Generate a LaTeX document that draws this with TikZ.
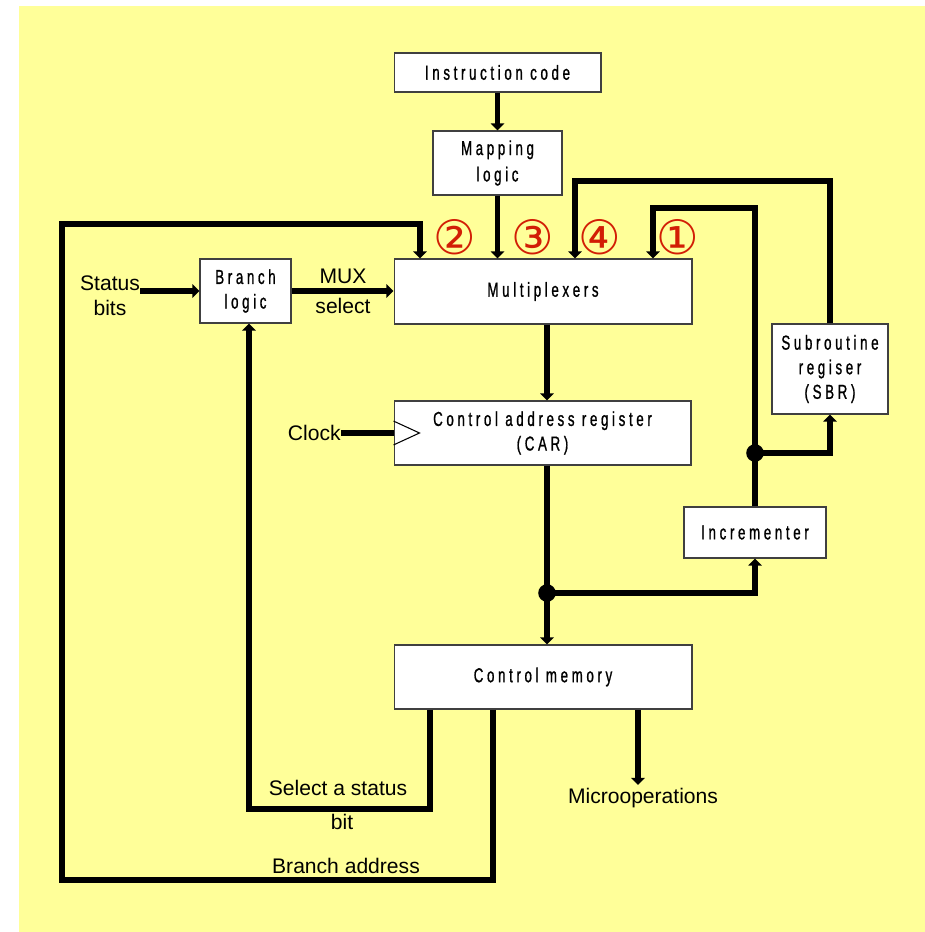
\documentclass[tikz,border=0pt]{standalone}
\usepackage{fontspec}
\setmainfont{Liberation Sans}
\newfontfamily\boxfont[FakeStretch=0.66,LetterSpace=18,FakeBold=0.9]{Liberation Sans}
\newfontfamily\numfont{DejaVu Sans}
\usetikzlibrary{arrows.meta}
\definecolor{paper}{RGB}{255,255,153}
\definecolor{numred}{RGB}{210,30,5}
\tikzset{
  unit/.style={draw=black!75, fill=white, line width=0.6pt, inner sep=0pt, align=center,
    font=\boxfont\fontsize{11.5}{14}\selectfont},
  bus/.style={line width=3.4pt},
  tobox/.style={bus, -{Triangle[length=4pt,width=7.5pt]}},
  lbl/.style={font=\fontsize{12}{14}\selectfont, inner sep=0pt},
  num/.style={text=numred, font=\numfont\fontsize{27}{27}\selectfont, inner sep=0pt}
}

\begin{document}
\begin{tikzpicture}[x=0.02cm, y=-0.02cm]
        % Page
        \useasboundingbox (0,0) rectangle (925,932);
        \fill[paper] (19,6) rectangle (925,932);
        % Draw the boxes
        \node[unit, minimum width=4.14cm, minimum height=0.78cm] (instr) at (497.5,72.5) {Instruction code};
        \node[unit, minimum width=2.58cm, minimum height=1.28cm] (maplog) at (497.5,163) {Mapping\\[1pt]logic};
        \node[unit, minimum width=5.96cm, minimum height=1.30cm] (mux) at (543,291.5) {Multiplexers};
        \node[unit, minimum width=1.82cm, minimum height=1.28cm] (branch) at (245.5,291) {Branch\\logic};
        \node[unit, minimum width=5.94cm, minimum height=1.28cm] (car) at (542.5,433) {Control address register\\(CAR)};
        \node[unit, minimum width=2.32cm, minimum height=1.80cm] (sbr) at (830,369) {Subroutine\\regiser\\(SBR)};
        \node[unit, minimum width=2.84cm, minimum height=1.02cm] (incr) at (755,532.5) {Incrementer};
        \node[unit, minimum width=5.96cm, minimum height=1.28cm] (cmem) at (543,677) {Control memory};
        % Coordinates
        \coordinate (j1) at (547,593);
        \coordinate (j2) at (755,453);
        \coordinate (p1) at (653,208);
        \coordinate (p2) at (420,224);
        \coordinate (p3) at (547,0);
        \coordinate (p4) at (575,181);
        \coordinate (ba) at (493,880);
        \coordinate (bl) at (62,880);
        \coordinate (ss) at (430,809);
        \coordinate (sl) at (249,809);
        \coordinate (mo) at (638,785);
        % Draw the labels
        \node[lbl, align=center] (status) at (110,296) {Status\\bits};
        \node[lbl] (muxtop) at (343,276) {MUX};
        \node[lbl] (muxbot) at (343,306) {select};
        \node[lbl, anchor=east] (clock) at (341,433) {Clock};
        \node[lbl] (sel) at (338,788) {Select a status};
        \node[lbl] (selbit) at (342,822) {bit};
        \node[lbl] (baddr) at (346,866) {Branch address};
        \node[lbl] (micro) at (643,798) {Microoperations};
        % Draw the paths
        \draw[tobox] (instr.south) -- (maplog.north);
        \draw[tobox] (maplog.south) -- (maplog.south |- mux.north);
        \draw[tobox] (status.east |- branch.west) -- (branch.west);
        \draw[tobox] (branch.east) -- (mux.west |- branch.east);
        \draw[tobox] (p3 |- mux.south) -- (p3 |- car.north);
        \draw[bus] (clock.east) -- (car.west);
        \draw[line width=0.6pt] ([yshift=6.8pt]car.west) -- ([xshift=14.8pt]car.west) -- ([yshift=-6.8pt]car.west);
        \draw[tobox] (p3 |- car.south) -- (p3 |- cmem.north);
        \draw[tobox] (j1) -| (incr.south);
        \draw[tobox] (incr.north) |- (p1) -- (p1 |- mux.north);
        \draw[tobox] (j2) -| (sbr.south);
        \draw[tobox] (sbr.north) |- (p4) -- (p4 |- mux.north);
        \draw[tobox] (ba |- cmem.south) -- (ba) -- (bl) |- (p2) -- (p2 |- mux.north);
        \draw[tobox] (ss |- cmem.south) -- (ss) -- (sl) -- (sl |- branch.south);
        \draw[tobox] (mo |- cmem.south) -- (mo);
        % Junctions
        \fill (j1) circle (5pt);
        \fill (j2) circle (5pt);
        % Number the inputs
        \node[num] (n2) at (455,237) {②};
        \node[num] (n3) at (533,237) {③};
        \node[num] (n4) at (600,237) {④};
        \node[num] (n1) at (678,237) {①};
\end{tikzpicture}
\end{document}
